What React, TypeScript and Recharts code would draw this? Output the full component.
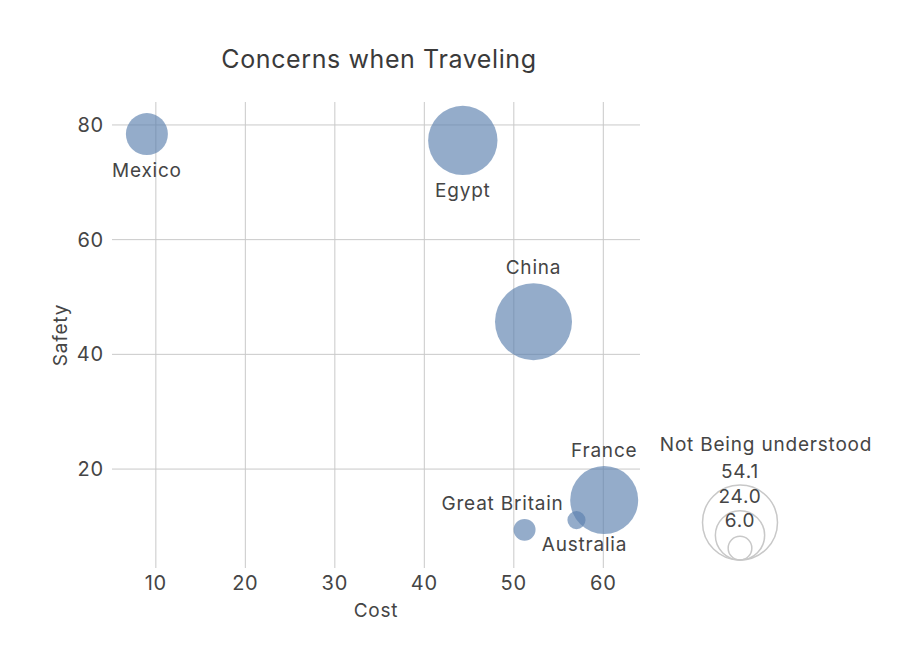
import { ScatterChart, Scatter, XAxis, YAxis, ZAxis, CartesianGrid, LabelList, Label } from "recharts";

const countries = ["Mexico", "Egypt", "China", "France", "Great Britain", "Australia"];
const cost = [9.0, 44.3, 52.2, 60.1, 51.2, 57.0];
const safety = [78.4, 77.3, 45.7, 14.6, 9.4, 11.1];
const notUnderstood = [16.1, 43.9, 54.1, 42.2, 4.4, 3.0];

const xTicks = [10, 20, 30, 40, 50, 60];
const yTicks = [20, 40, 60, 80];
const legendValues = [54.1, 24.0, 6.0];

// label placement per country: side of bubble + small horizontal nudge
const labelSide = ["bottom", "bottom", "top", "top", "top", "bottom"];
const labelNudge = [0, 0, 0, 0, -22, 8];

const data = countries.map((name, i) => ({
  name,
  cost: cost[i],
  safety: safety[i],
  z: notUnderstood[i],
}));

const FONT = "Inter, 'Noto Sans', sans-serif";
const TEXT = "#454545";
const BUBBLE = "#5b7fae";
const Z_MAX = 54.1;
const R_MAX = 38.5;
const AREA_MAX = Math.PI * R_MAX * R_MAX;
const LS = 0.8;

function BubbleLabel(props: any) {
  const { viewBox, index, value } = props;
  if (!viewBox) return null;
  const { x, y, width, height } = viewBox;
  const cx = x + width / 2 + labelNudge[index];
  const side = labelSide[index];
  const ty = side === "top" ? y - 9 : y + height + 22;
  return (
    <text x={cx} y={ty} textAnchor="middle" fontSize={19} letterSpacing={LS} fill={TEXT} fontFamily={FONT}>
      {value}
    </text>
  );
}

function SizeLegend() {
  const cx = 100;
  const bottom = 140;
  return (
    <svg width={260} height={160} style={{ position: "absolute", left: 640, top: 420 }}>
      <text x={126} y={31} textAnchor="middle" fontSize={19} letterSpacing={LS} fill={TEXT} fontFamily={FONT}>
        Not Being understood
      </text>
      {legendValues.map((v) => {
        const r = Math.sqrt((v / Z_MAX) * AREA_MAX / Math.PI) - 1;
        return <circle key={v} cx={cx} cy={bottom - r} r={r} fill="none" stroke="#c8c8c8" strokeWidth={1.5} />;
      })}
      {legendValues.map((v, i) => (
        <text key={"t" + v} x={cx} y={58 + i * 24.5} textAnchor="middle" fontSize={19} letterSpacing={LS} fill={TEXT} fontFamily={FONT}>
          {v.toFixed(1)}
        </text>
      ))}
    </svg>
  );
}

export default function App() {
  const tick = { fontSize: 20, fill: TEXT, fontFamily: FONT, letterSpacing: LS };
  return (
    <div style={{ position: "absolute", left: 0, top: 0, width: 921, height: 668, background: "#fff" }}>
      <div
        style={{
          position: "absolute",
          left: 115,
          width: 528,
          top: 44,
          textAlign: "center",
          fontFamily: FONT,
          fontSize: 25,
          letterSpacing: 0.6,
          color: "#3a3a3a",
        }}
      >
        Concerns when Traveling
      </div>
      <ScatterChart width={921} height={668} margin={{ top: 102, right: 281, bottom: 50, left: 52 }}>
        <CartesianGrid stroke="#c9c9c9" syncWithTicks />
        <XAxis
          type="number"
          dataKey="cost"
          domain={[5.1, 64.1]}
          ticks={xTicks}
          axisLine={false}
          tickLine={false}
          tick={tick}
          height={50}
        >
          <Label value="Cost" position="insideBottom" offset={1} fontSize={19} letterSpacing={LS} fill={TEXT} fontFamily={FONT} />
        </XAxis>
        <YAxis
          type="number"
          dataKey="safety"
          domain={[2.75, 84]}
          ticks={yTicks}
          axisLine={false}
          tickLine={false}
          tick={tick}
          width={60}
        >
          <Label
            value="Safety"
            angle={-90}
            position="insideLeft"
            offset={8}
            fontSize={19}
            letterSpacing={LS}
            fill={TEXT}
            fontFamily={FONT}
            style={{ textAnchor: "middle" }}
          />
        </YAxis>
        <ZAxis type="number" dataKey="z" domain={[0, Z_MAX]} range={[0, AREA_MAX]} />
        <Scatter data={data} fill={BUBBLE} fillOpacity={0.65} isAnimationActive={false}>
          <LabelList dataKey="name" content={<BubbleLabel />} />
        </Scatter>
      </ScatterChart>
      <SizeLegend />
    </div>
  );
}
